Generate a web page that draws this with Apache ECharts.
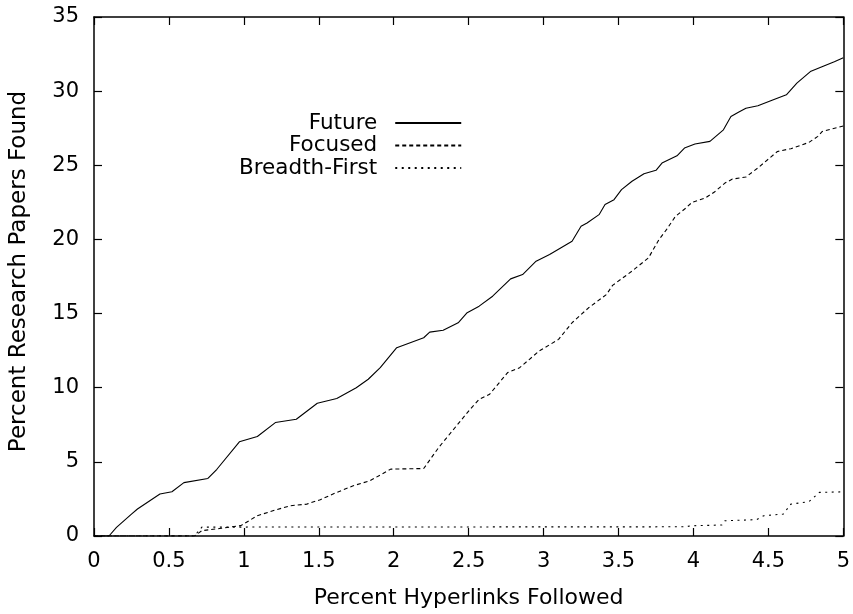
<!DOCTYPE html>
<html>
<head>
<meta charset="utf-8">
<script src="https://cdn.jsdelivr.net/npm/echarts@6/dist/echarts.min.js"></script>
<style>
  html, body { margin: 0; padding: 0; background: #fff; }
  #chart { width: 853px; height: 614px; }
</style>
</head>
<body>
<div id="chart"></div>
<script>
// [x, y] pairs
const futureData = [
    [0, 0], [0.1, 0], [0.15, 0.58], [0.25, 1.48], [0.29, 1.82], [0.44, 2.83], [0.52, 2.98],
    [0.6, 3.6], [0.76, 3.88], [0.82, 4.5], [0.97, 6.35], [1.09, 6.71], [1.21, 7.65],
    [1.35, 7.87], [1.49, 8.95], [1.62, 9.27], [1.75, 10.0], [1.83, 10.57], [1.91, 11.35],
    [2.02, 12.7], [2.2, 13.37], [2.24, 13.75], [2.33, 13.87], [2.43, 14.38], [2.49, 15.06],
    [2.57, 15.5], [2.66, 16.17], [2.78, 17.34], [2.86, 17.63], [2.95, 18.53], [3.04, 18.98],
    [3.19, 19.88], [3.25, 20.89], [3.29, 21.11], [3.37, 21.67], [3.41, 22.35], [3.47, 22.68],
    [3.52, 23.36], [3.59, 23.92], [3.67, 24.43], [3.75, 24.66], [3.79, 25.15], [3.89, 25.64],
    [3.94, 26.16], [4.01, 26.43], [4.11, 26.61], [4.2, 27.39], [4.25, 28.29], [4.3, 28.58],
    [4.35, 28.85], [4.43, 29.01], [4.52, 29.37], [4.62, 29.75], [4.69, 30.54], [4.78, 31.32],
    [4.87, 31.7], [4.94, 31.99], [5, 32.25]
];
const focusedData = [
    [0, 0], [0.67, 0], [0.72, 0.36], [0.85, 0.52], [0.98, 0.7], [1.09, 1.37], [1.21, 1.75],
    [1.31, 2.04], [1.42, 2.15], [1.51, 2.45], [1.62, 2.94], [1.73, 3.39], [1.84, 3.72],
    [1.98, 4.51], [2.2, 4.55], [2.3, 5.97], [2.51, 8.55], [2.57, 9.22], [2.64, 9.56],
    [2.76, 11.02], [2.84, 11.35], [2.97, 12.47], [3.1, 13.26], [3.19, 14.38], [3.3, 15.39],
    [3.42, 16.29], [3.46, 16.9], [3.59, 17.86], [3.7, 18.76], [3.77, 19.99], [3.82, 20.66],
    [3.88, 21.56], [3.95, 22.12], [3.99, 22.5], [4.08, 22.8], [4.14, 23.2], [4.21, 23.8],
    [4.26, 24.07], [4.35, 24.21], [4.43, 24.82], [4.5, 25.42], [4.56, 25.93], [4.65, 26.12],
    [4.77, 26.54], [4.83, 26.95], [4.86, 27.28], [5, 27.65]
];
const breadthData = [
    [0, 0], [0.67, 0], [0.72, 0.6], [3.95, 0.62], [3.98, 0.69], [4.19, 0.74], [4.21, 1.03],
    [4.42, 1.1], [4.47, 1.37], [4.6, 1.48], [4.65, 2.15], [4.77, 2.31], [4.84, 2.94], [5, 2.98]
];
const seriesNames = ['Future', 'Focused', 'Breadth-First'];
const xTicks = [0, 0.5, 1, 1.5, 2, 2.5, 3, 3.5, 4, 4.5, 5];
const yTicks = [0, 5, 10, 15, 20, 25, 30, 35];

const chartDom = document.getElementById('chart');
const myChart = echarts.init(chartDom);

const fontFamily = 'DejaVu Sans, Liberation Sans, Arial, sans-serif';
const axisLine = { show: true, onZero: false, lineStyle: { color: '#000', width: 1.5 } };
const axisTick = { show: true, inside: true, length: 8, lineStyle: { color: '#000', width: 1.2 } };

function lineSeries(name, data, type) {
    return {
        name: name,
        type: 'line',
        data: data,
        symbol: 'none',
        animation: false,
        itemStyle: { color: '#000' },
        lineStyle: { color: '#000', width: 1.1, type: type }
    };
}

const option = {
    animation: false,
    textStyle: { fontFamily: fontFamily },
    grid: { left: 92, right: 7, top: 17, bottom: 77 },
    legend: {
        orient: 'vertical',
        left: 234,
        top: 107,
        align: 'right',
        itemWidth: 66,
        itemHeight: 14,
        itemGap: 0.5,
        itemStyle: { opacity: 0 },
        textStyle: { fontSize: 21.5, color: '#000', fontFamily: fontFamily, padding: [0, 13, 0, 0] },
        data: seriesNames
    },
    xAxis: [
        {
            type: 'value', position: 'bottom',
            min: xTicks[0], max: xTicks[xTicks.length - 1], interval: 0.5,
            name: 'Percent Hyperlinks Followed', nameLocation: 'middle', nameGap: 51,
            nameTextStyle: { fontSize: 22, color: '#000' },
            axisLine: axisLine, axisTick: axisTick,
            axisLabel: { fontSize: 21, color: '#000', margin: 15 },
            splitLine: { show: false }
        },
        {
            type: 'value', position: 'top',
            min: xTicks[0], max: xTicks[xTicks.length - 1], interval: 0.5,
            axisLine: axisLine, axisTick: axisTick,
            axisLabel: { show: false }, splitLine: { show: false }
        }
    ],
    yAxis: [
        {
            type: 'value', position: 'left',
            min: yTicks[0], max: yTicks[yTicks.length - 1], interval: 5,
            name: 'Percent Research Papers Found', nameLocation: 'middle', nameGap: 63,
            nameTextStyle: { fontSize: 23, color: '#000', padding: [0, 0, 0, 10] },
            axisLine: axisLine, axisTick: axisTick,
            axisLabel: { fontSize: 21, color: '#000', margin: 15 },
            splitLine: { show: false }
        },
        {
            type: 'value', position: 'right',
            min: yTicks[0], max: yTicks[yTicks.length - 1], interval: 5,
            axisLine: axisLine, axisTick: axisTick,
            axisLabel: { show: false }, splitLine: { show: false }
        }
    ],
    series: [
        lineSeries(seriesNames[0], futureData, 'solid'),
        lineSeries(seriesNames[1], focusedData, [4, 3]),
        lineSeries(seriesNames[2], breadthData, [2, 4.5])
    ]
};
myChart.setOption(option);
</script>
</body>
</html>
